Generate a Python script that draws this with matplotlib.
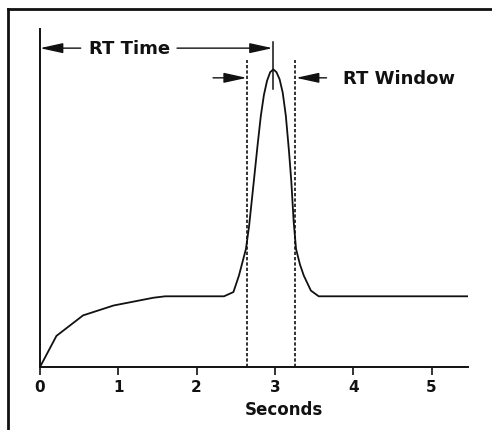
import matplotlib
matplotlib.use('Agg')
import matplotlib.pyplot as plt
from matplotlib.lines import Line2D

# detector trace (time in s, signal relative to baseline plateau)
time_s = [0, 0.21, 0.55, 0.94, 1.45, 1.60, 2.35, 2.47, 2.54, 2.63, 2.67, 2.73,
          2.78, 2.82, 2.86, 2.90, 2.94, 2.98, 3.02, 3.06, 3.10, 3.14, 3.18,
          3.21, 3.24, 3.27, 3.32, 3.37, 3.46, 3.56, 5.47]
signal = [0, 0.44, 0.73, 0.87, 0.98, 1.00, 1.00, 1.06, 1.29, 1.67, 1.99, 2.62,
          3.15, 3.55, 3.85, 4.05, 4.17, 4.21, 4.17, 4.07, 3.88, 3.55, 3.05,
          2.62, 2.05, 1.67, 1.45, 1.29, 1.08, 1.00, 1.00]

rt_time = 2.98
window = [2.65, 3.26]
xticks = [0, 1, 2, 3, 4, 5]

ink = '#111111'
font = 'DejaVu Sans'

fig = plt.figure(figsize=(4.92, 4.31), dpi=100)
ax = fig.add_axes([40 / 492, 63 / 431, 428 / 492, 338 / 431])

ax.plot(time_s, signal, color=ink, lw=1.3)

# retention window dashed lines
for w in window:
    ax.plot([w, w], [0, 4.34], color=ink, lw=1.2, ls=(0, (2, 1.2)))

# marker at retention time
ax.plot([rt_time, rt_time], [3.93, 4.60], color=ink, lw=1.1)

arrow = dict(arrowstyle='-|>,head_length=1.0,head_width=0.22', color=ink, lw=1.0,
             shrinkA=0, shrinkB=0, mutation_scale=14)

# RT Time arrows
ax.annotate('', xy=(0, 4.51), xytext=(0.52, 4.51), arrowprops=arrow)
ax.annotate('', xy=(rt_time - 0.01, 4.51), xytext=(1.75, 4.51), arrowprops=arrow)
ax.text(1.15, 4.51, 'RT Time', fontsize=13, fontweight='bold', family=font,
        color=ink, ha='center', va='center')

# RT Window arrows
ax.annotate('', xy=(window[0] - 0.01, 4.09), xytext=(2.21, 4.09), arrowprops=arrow)
ax.annotate('', xy=(window[1] + 0.01, 4.09), xytext=(3.66, 4.09), arrowprops=arrow)
ax.text(3.87, 4.09, 'RT Window', fontsize=13, fontweight='bold', family=font,
        color=ink, ha='left', va='center')

ax.set_xlim(0, 428 / 78.3)
ax.set_ylim(0, 338 / 70.7)
ax.set_xticks(xticks)
ax.set_xticklabels([str(t) for t in xticks], fontsize=11, fontweight='bold', family=font, color=ink)
ax.set_yticks([])
ax.tick_params(axis='x', direction='out', length=6, width=1.2, pad=3, colors=ink)
for side in ['top', 'right']:
    ax.spines[side].set_visible(False)
for side in ['left', 'bottom']:
    ax.spines[side].set_linewidth(1.4)
    ax.spines[side].set_color(ink)

ax.set_xlabel('Seconds', fontsize=12, fontweight='bold', family=font, color=ink)
ax.xaxis.set_label_coords(0.570, -0.097)
ax.xaxis.label.set_va('top')

# outer frame (runs off the right and bottom of the picture)
fig.add_artist(Line2D([8 / 492, 8 / 492], [0, 1 - 10 / 431], color=ink, lw=2.0))
fig.add_artist(Line2D([8 / 492, 1], [1 - 10 / 431, 1 - 10 / 431], color=ink, lw=2.0))

fig.savefig('out.png', dpi=100)
